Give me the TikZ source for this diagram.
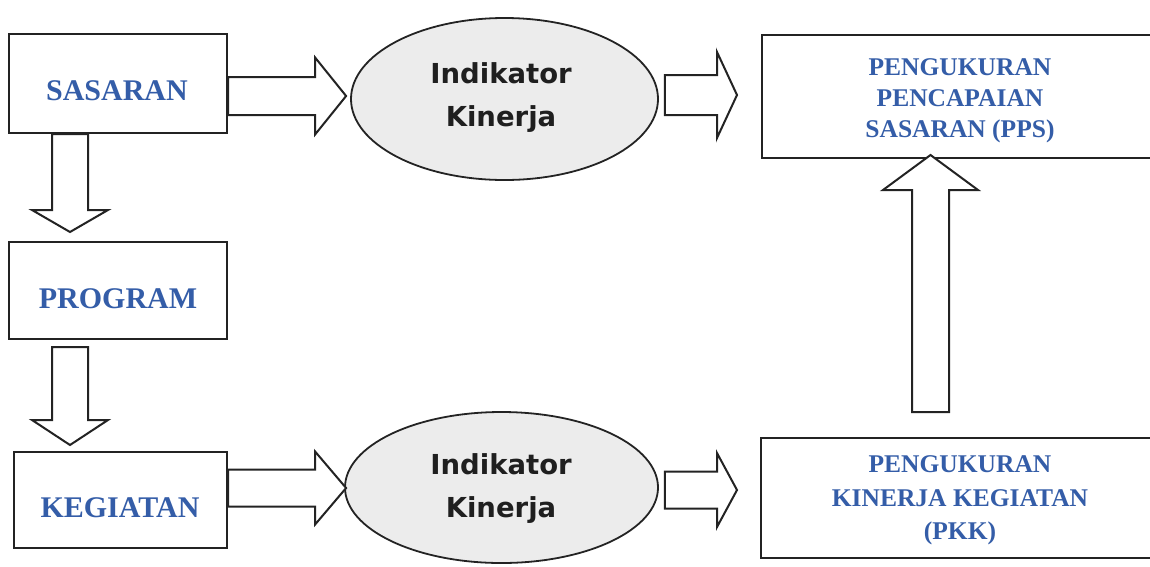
\documentclass[tikz,border=0pt]{standalone}
\usepackage{fontspec}
\setmainfont{Liberation Serif}
\newfontfamily\ikfont{DejaVu Sans}
\usetikzlibrary{shapes.geometric,calc}
\definecolor{tblue}{RGB}{52,93,168}
\definecolor{lgray}{RGB}{236,236,236}
\definecolor{lnc}{RGB}{35,35,35}
\tikzset{
  box/.style={draw=lnc,line width=2pt,fill=white,rectangle,inner sep=0pt},
  ell/.style={draw=lnc,line width=1.8pt,fill=lgray,ellipse,inner sep=0pt},
  btxt/.style={text=tblue,font=\fontsize{30}{36}\selectfont\bfseries,inner sep=0pt},
  rtxt/.style={text=tblue,font=\fontsize{25.5}{31}\selectfont\bfseries,align=center,inner sep=0pt},
  rtxtb/.style={rtxt,font=\fontsize{25.5}{33.5}\selectfont\bfseries},
  iktxt/.style={text=black!88,font=\fontsize{27.5}{43}\selectfont\ikfont\bfseries,align=center,inner sep=0pt},
  blk/.style={draw=lnc,line width=2pt,fill=white,line join=miter}
}
% right-pointing block arrow: #1 start, #2 tip, #3 shaft half, #4 head half, #5 head length
\newcommand\blockR[5]{\draw[blk] let \p1=#1, \p2=#2 in
  (\x1,\y2+#3) -- (\x2-#5,\y2+#3) -- (\x2-#5,\y2+#4) -- (\x2,\y2)
  -- (\x2-#5,\y2-#4) -- (\x2-#5,\y2-#3) -- (\x1,\y2-#3) -- cycle;}
% down-pointing block arrow
\newcommand\blockD[5]{\draw[blk] let \p1=#1, \p2=#2 in
  (\x2-#3,\y1) -- (\x2-#3,\y2+#5) -- (\x2-#4,\y2+#5) -- (\x2,\y2)
  -- (\x2+#4,\y2+#5) -- (\x2+#3,\y2+#5) -- (\x2+#3,\y1) -- cycle;}
% up-pointing block arrow
\newcommand\blockU[5]{\draw[blk] let \p1=#1, \p2=#2 in
  (\x2-#3,\y1) -- (\x2-#3,\y2-#5) -- (\x2-#4,\y2-#5) -- (\x2,\y2)
  -- (\x2+#4,\y2-#5) -- (\x2+#3,\y2-#5) -- (\x2+#3,\y1) -- cycle;}
\begin{document}
\begin{tikzpicture}[x=1pt,y=-1pt]
\useasboundingbox (0,0) rectangle (1150,566);
\clip (0,0) rectangle (1150,566);
% boxes
\node[box,minimum width=218pt,minimum height=99pt] (sas) at (118,83.5) {};
\node[box,minimum width=218pt,minimum height=97pt] (prog) at (118,290.5) {};
\node[box,minimum width=213pt,minimum height=96pt] (keg) at (120.5,500) {};
\node[box,minimum width=398pt,minimum height=123pt] (pps) at (961,96.5) {};
\node[box,minimum width=399pt,minimum height=120pt] (pkk) at (960.5,498) {};
\node[ell,minimum width=307pt,minimum height=162pt] (ik1) at (504.5,99) {};
\node[ell,minimum width=313pt,minimum height=151pt] (ik2) at (501.5,487.5) {};
% texts
\node[btxt] (tsas) at (117,91) {SASARAN};
\node[btxt] (tprog) at (118,299) {PROGRAM};
\node[btxt] (tkeg) at (120,508) {KEGIATAN};
\node[rtxt] (tpps) at (960,100.5) {PENGUKURAN\\PENCAPAIAN\\SASARAN (PPS)};
\node[rtxtb] (tpkk) at (960,500.5) {PENGUKURAN\\KINERJA KEGIATAN\\(PKK)};
\node[iktxt] (tik1) at (501,98) {Indikator\\Kinerja};
\node[iktxt] (tik2) at (501,489) {Indikator\\Kinerja};
% block arrows
\blockR{(sas.east |- 0,96)}{([xshift=-4pt]ik1.west |- 0,96)}{19pt}{38.5pt}{31pt}
\blockR{([xshift=6pt]ik1.east |- 0,95)}{([xshift=-24pt]pps.west |- 0,95)}{20pt}{43pt}{20pt}
\blockR{(keg.east |- 0,488)}{([xshift=2pt]ik2.west |- 0,488)}{18.5pt}{36.5pt}{31pt}
\blockR{([xshift=6pt]ik2.east |- 0,490)}{([xshift=-23pt]pkk.west |- 0,490)}{18.5pt}{37pt}{20pt}
\blockD{([xshift=-48pt]sas.south)}{([xshift=-48pt,yshift=9pt]prog.north)}{18pt}{38pt}{22pt}
\blockD{([xshift=-48pt,yshift=-7pt]prog.south)}{([xshift=-50.5pt,yshift=6pt]keg.north)}{18pt}{38pt}{25pt}
\blockU{([xshift=-30.5pt,yshift=25pt]pkk.north)}{([xshift=-30.5pt,yshift=4pt]pps.south)}{18.5pt}{47.5pt}{35pt}
\end{tikzpicture}
\end{document}
